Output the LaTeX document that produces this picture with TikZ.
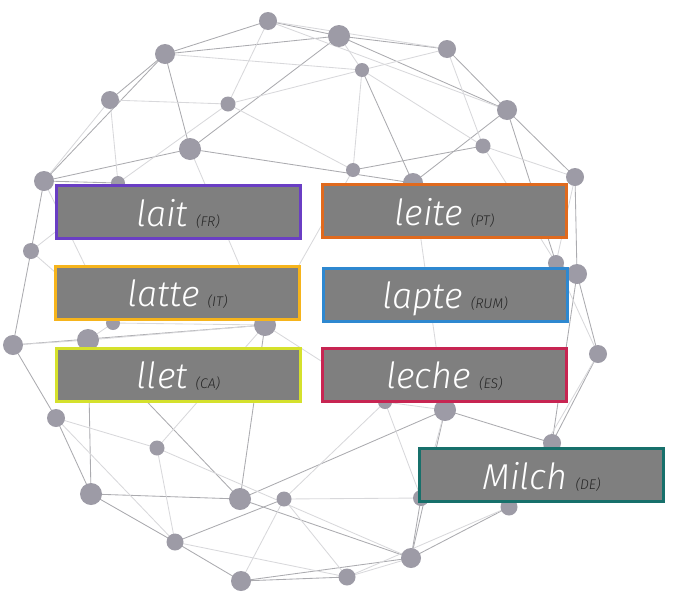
\documentclass[tikz,border=0pt]{standalone}
\usepackage{fontspec}
\newfontfamily\wordfont{Fira Sans Light Italic}
\usetikzlibrary{backgrounds}
\definecolor{dotc}{HTML}{9D9BA6}
\definecolor{wiredark}{HTML}{ABABAF}
\definecolor{wirelight}{HTML}{D8D8DB}
\definecolor{boxfill}{HTML}{7F7F7F}
\definecolor{lbl}{HTML}{262626}
\definecolor{frc}{HTML}{6A3EC4}
\definecolor{ptc}{HTML}{E06A1E}
\definecolor{itc}{HTML}{F6B41C}
\definecolor{rumc}{HTML}{2E88D0}
\definecolor{cac}{HTML}{D5E12C}
\definecolor{esc}{HTML}{C72552}
\definecolor{dec}{HTML}{17706B}
\newcommand\langtag[1]{\hspace{8pt}{\fontsize{14}{14}\selectfont\color{lbl}(#1)}}
\tikzset{
  dot/.style={circle, fill=dotc, inner sep=0pt},
  wire/.style={wiredark, line width=0.85pt},
  faint/.style={wirelight, line width=0.85pt},
  wordbox/.style={draw=#1, line width=3pt, fill=boxfill, minimum width=244pt,
    minimum height=53pt, text height=30pt, text depth=2pt, inner sep=0pt,
    text=white, font=\wordfont\fontsize{36}{36}\selectfont}
}
\begin{document}
\begin{tikzpicture}[x=1pt, y=-1pt]
  \useasboundingbox (0,0) rectangle (684,600);
  % the sphere of dots
  \foreach \n/\x/\y/\r in {p1/268/21/9, p2/339/36/11, p3/165/54/10, p4/447/49/9,
      p5/362/70/7, p6/110/100/9, p7/228/104/7.5, p8/507/110/10, p9/190/149/11,
      p10/483/146/7.5, p11/353/170/7, p12/44/181/10, p13/575/177/9, p14/413/183/10,
      p15/118/183/7, p16/31/251/8, p17/556/263/8, p18/577/274/10, p19/13/345/10,
      p20/88/340/11, p21/113/323/7, p22/265/325/11, p23/598/354/9, p24/56/418/9,
      p25/157/448/7.5, p26/91/494/11, p27/240/499/11, p28/284/499/7.5, p29/175/542/8.5,
      p30/241/581/10, p31/347/577/8.5, p32/411/558/10, p33/445/410/11, p34/385/402/7,
      p35/552/443/9, p36/509/507/8.5, p37/421/498/8}
    \node[dot, minimum size=\r*2pt] (\n) at (\x,\y) {};
  \begin{scope}[on background layer]
    \foreach \a/\b in {p1/p2, p1/p3, p2/p3, p2/p8, p2/p9, p2/p4, p3/p12, p3/p9,
        p3/p6, p4/p8, p8/p14, p8/p13, p8/p17, p9/p12, p9/p14, p12/p16, p16/p19,
        p19/p24, p24/p26, p26/p27, p26/p29, p29/p30, p27/p33, p27/p32, p30/p32,
        p30/p31, p32/p36, p33/p35, p27/p20, p13/p18, p18/p23, p23/p35, p19/p22,
        p27/p22, p5/p14, p10/p11, p12/p15, p26/p20, p33/p32, p28/p29, p17/p18,
        p18/p35, p32/p37, p36/p35}
      \draw[wire] (\a.center) -- (\b.center);
    \foreach \a/\b in {p1/p7, p1/p8, p1/p4, p2/p5, p4/p5, p4/p10, p5/p10, p5/p11,
        p5/p7, p6/p7, p6/p12, p6/p15, p7/p15, p7/p11, p10/p13, p10/p17, p13/p17,
        p12/p21, p16/p15, p17/p23, p19/p20, p20/p21, p20/p22, p22/p34, p22/p11,
        p24/p25, p24/p29, p25/p29, p25/p32, p25/p22, p28/p34, p28/p30, p28/p31,
        p28/p37, p29/p31, p31/p32, p31/p36, p33/p34, p33/p37, p34/p37, p36/p23,
        p21/p22, p9/p22, p14/p33, p3/p5, p16/p21}
      \draw[faint] (\a.center) -- (\b.center);
  \end{scope}
  % the words
  \node[wordbox=frc] (lait) at (178,212) {lait\langtag{FR}};
  \node[wordbox=ptc] (leite) at (444.5,211) {leite\langtag{PT}};
  \node[wordbox=itc] (latte) at (177.5,292.5) {latte\langtag{IT}};
  \node[wordbox=rumc] (lapte) at (445,294.5) {lapte\langtag{RUM}};
  \node[wordbox=cac] (llet) at (178.5,374.5) {llet\langtag{CA}};
  \node[wordbox=esc] (leche) at (444.5,374.5) {leche\langtag{ES}};
  \node[wordbox=dec] (milch) at (541.5,475) {Milch\langtag{DE}};
\end{tikzpicture}
\end{document}
